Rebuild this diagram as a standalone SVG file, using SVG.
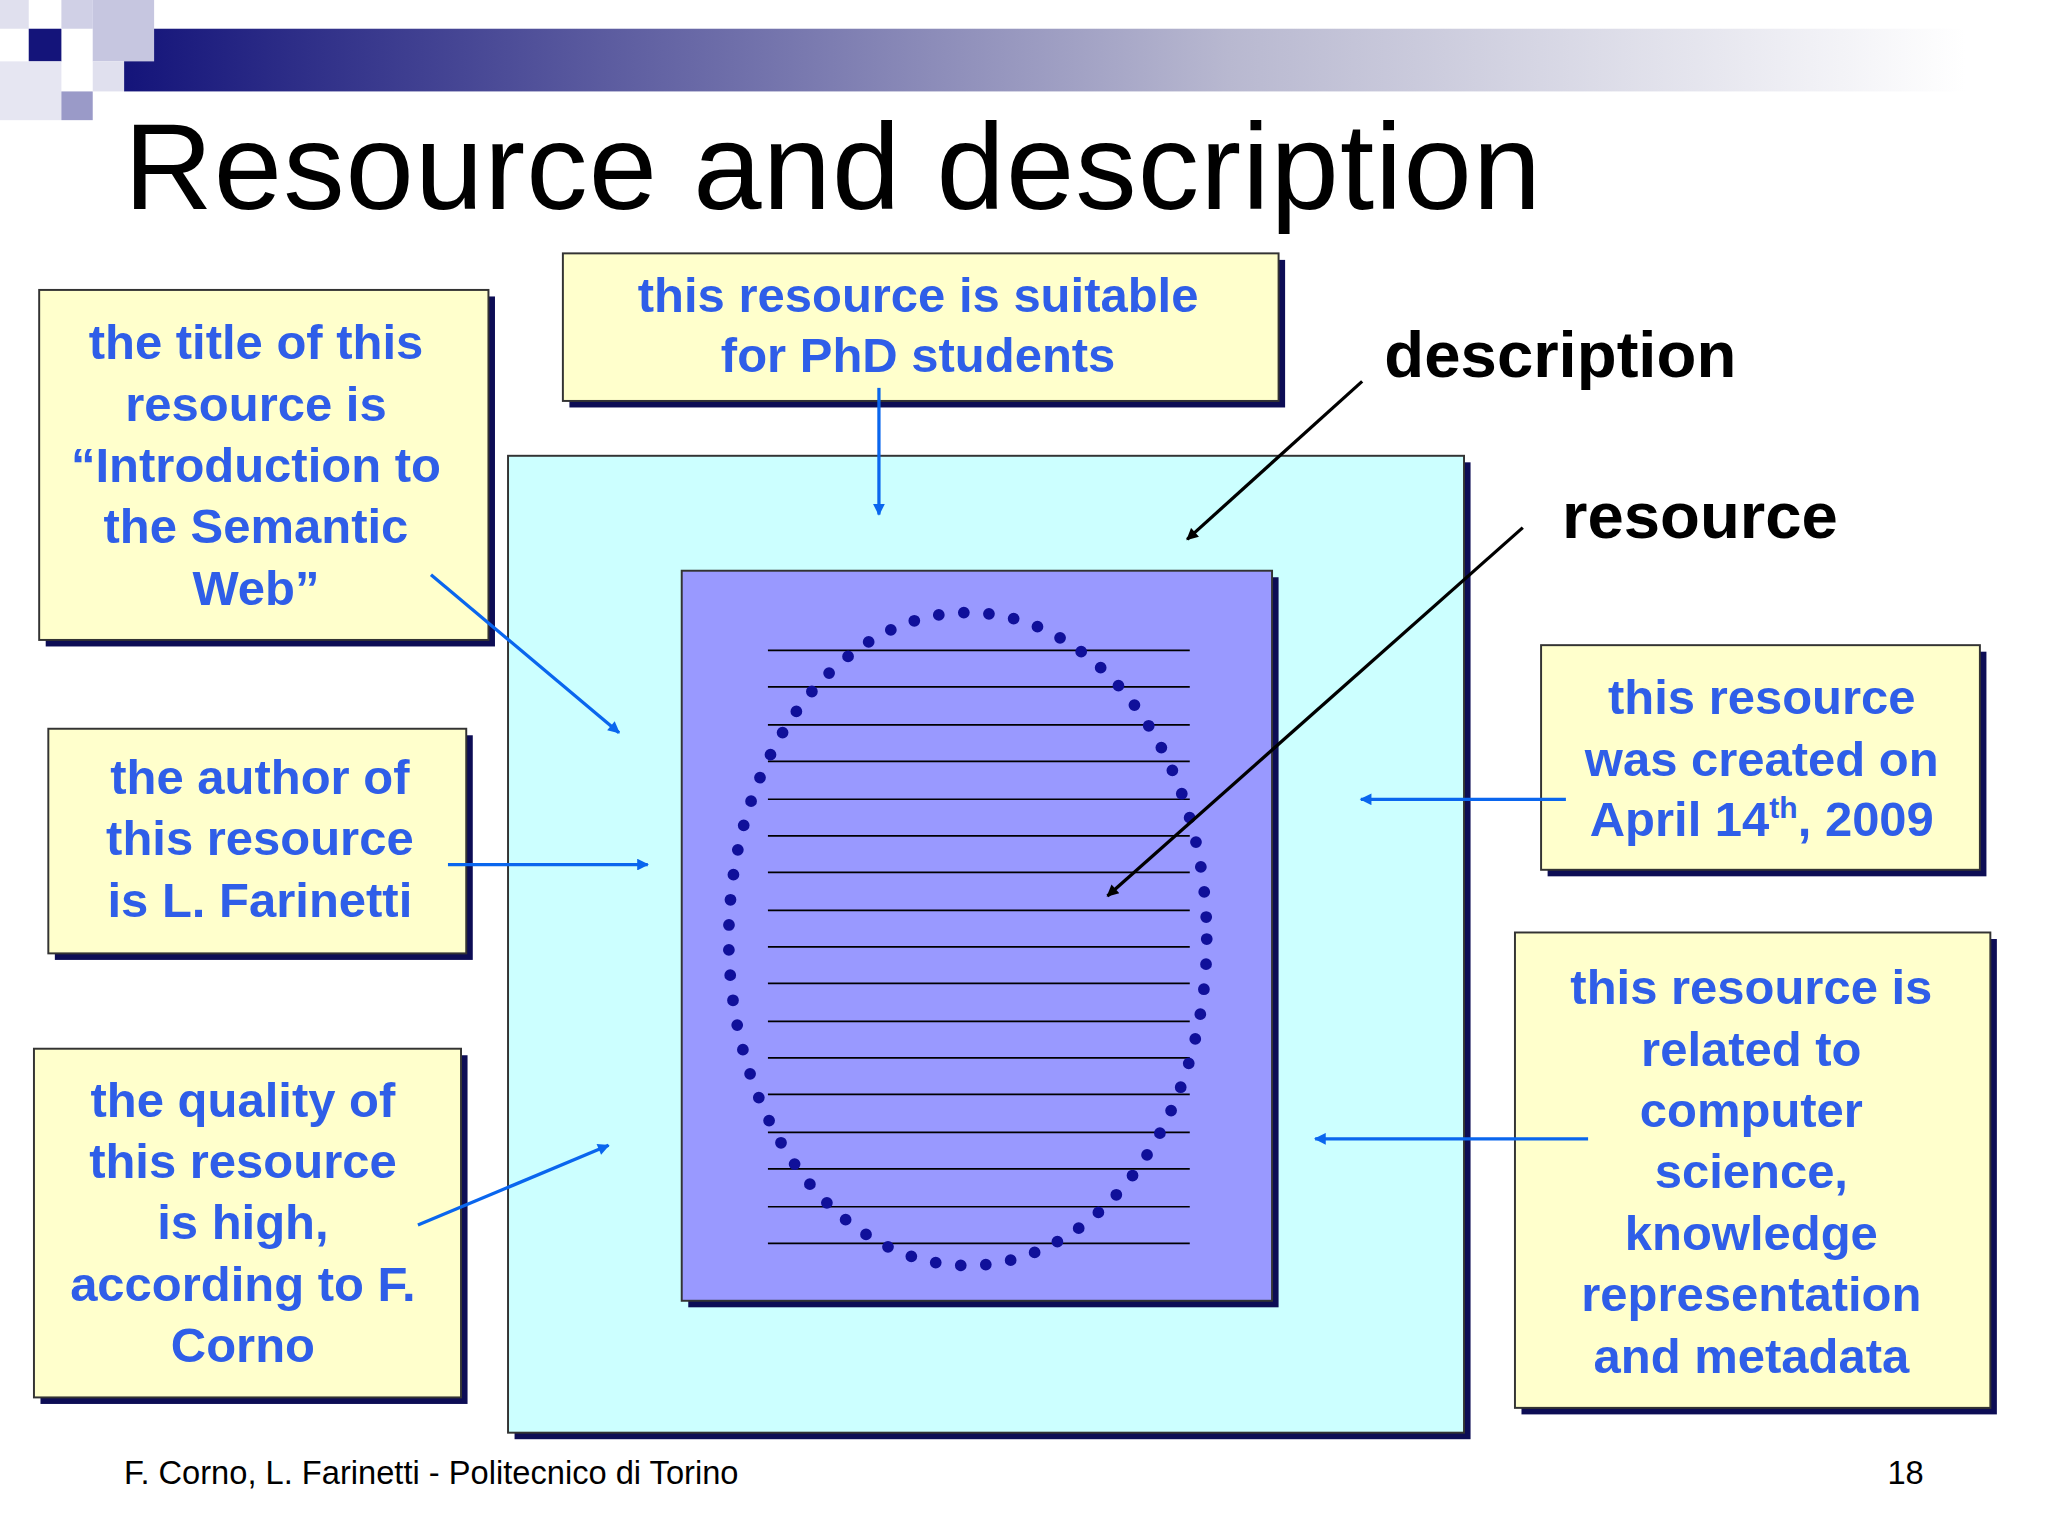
<svg xmlns="http://www.w3.org/2000/svg" width="2048" height="1536" viewBox="0 0 2048 1536">
<defs>
<linearGradient id="bar" x1="0" x2="1" y1="0" y2="0"><stop offset="0" stop-color="#14147a"/><stop offset="0.6" stop-color="#b8b8d0"/><stop offset="1" stop-color="#ffffff"/></linearGradient>
<marker id="ab" viewBox="0 0 10 10" refX="9" refY="5" markerWidth="11" markerHeight="9" orient="auto" markerUnits="userSpaceOnUse"><path d="M0,0L10,5L0,10z" fill="#0a66ee"/></marker>
<marker id="ak" viewBox="0 0 10 10" refX="9" refY="5" markerWidth="11" markerHeight="9" orient="auto" markerUnits="userSpaceOnUse"><path d="M0,0L10,5L0,10z" fill="#000"/></marker>
</defs>
<style>
.box{fill:#ffffcc;stroke:#333;stroke-width:1.5}
.sh{fill:#0d0d55}
.t{font-family:"Liberation Sans",Arial,sans-serif;font-weight:bold;font-size:37.5px;fill:#2f5ee8;text-anchor:middle}
.lb{font-family:"Liberation Sans",Arial,sans-serif;font-weight:bold;font-size:50px;fill:#000}
.bl{stroke:#0a66ee;stroke-width:2.5;fill:none;marker-end:url(#ab)}
.bk{stroke:#000;stroke-width:2.5;fill:none;marker-end:url(#ak)}
.ln{stroke:#000;stroke-width:1.3}
</style>
<rect width="2048" height="1536" fill="#fff"/>
<g transform="scale(1.306)">
<g id="header">
<rect x="95" y="22" width="1410" height="48" fill="url(#bar)"/>
<rect x="0" y="0" width="22" height="22" fill="#e0e0ee"/>
<rect x="22" y="22" width="25" height="25" fill="#14147a"/>
<rect x="47" y="0" width="24" height="22" fill="#d0d0e6"/>
<rect x="0" y="47" width="47" height="45" fill="#e6e6f2"/>
<rect x="47" y="70" width="24" height="22" fill="#9a9ac8"/>
<rect x="71" y="0" width="47" height="47" fill="#c6c6e0"/>
<rect x="71" y="47" width="24" height="23" fill="#e0e0ee"/>
<text x="95" y="160" font-family="Liberation Sans,Arial,sans-serif" font-size="94" textLength="1085" fill="#000">Resource and description</text>
</g>
<g id="description">
<rect x="394" y="354" width="732" height="748" class="sh"/>
<rect x="389" y="349" width="732" height="748" fill="#ccffff" stroke="#333" stroke-width="1.5"/>
</g>
<g id="resource">
<rect x="527" y="442" width="452" height="559" class="sh"/>
<rect x="522" y="437" width="452" height="559" fill="#9999ff" stroke="#333" stroke-width="1.5"/>
<g class="ln">
<line x1="588" x2="911" y1="498" y2="498"/><line x1="588" x2="911" y1="526" y2="526"/><line x1="588" x2="911" y1="555" y2="555"/><line x1="588" x2="911" y1="583" y2="583"/><line x1="588" x2="911" y1="612" y2="612"/><line x1="588" x2="911" y1="640" y2="640"/><line x1="588" x2="911" y1="668" y2="668"/><line x1="588" x2="911" y1="697" y2="697"/><line x1="588" x2="911" y1="725" y2="725"/><line x1="588" x2="911" y1="753" y2="753"/><line x1="588" x2="911" y1="782" y2="782"/><line x1="588" x2="911" y1="810" y2="810"/><line x1="588" x2="911" y1="838" y2="838"/><line x1="588" x2="911" y1="867" y2="867"/><line x1="588" x2="911" y1="895" y2="895"/><line x1="588" x2="911" y1="924" y2="924"/><line x1="588" x2="911" y1="952" y2="952"/>
</g>
<ellipse cx="741" cy="719" rx="183" ry="250" fill="none" stroke="#10109a" stroke-width="9" stroke-linecap="round" stroke-dasharray="0 19.3"/>
</g>
<g id="n1"><rect x="35" y="227" width="344" height="268" class="sh"/><rect x="30" y="222" width="344" height="268" class="box"/>
<text class="t"><tspan x="196" y="275">the title of this</tspan><tspan x="196" y="322">resource is</tspan><tspan x="196" y="369">“Introduction to</tspan><tspan x="196" y="416">the Semantic</tspan><tspan x="196" y="463">Web”</tspan></text></g>
<g id="n2"><rect x="436" y="199" width="548" height="113" class="sh"/><rect x="431" y="194" width="548" height="113" class="box"/>
<text class="t"><tspan x="703" y="239">this resource is suitable</tspan><tspan x="703" y="285">for PhD students</tspan></text></g>
<g id="n3"><rect x="42" y="563" width="320" height="172" class="sh"/><rect x="37" y="558" width="320" height="172" class="box"/>
<text class="t"><tspan x="199" y="608">the author of</tspan><tspan x="199" y="655">this resource</tspan><tspan x="199" y="702">is L. Farinetti</tspan></text></g>
<g id="n4"><rect x="31" y="808" width="327" height="267" class="sh"/><rect x="26" y="803" width="327" height="267" class="box"/>
<text class="t"><tspan x="186" y="855">the quality of</tspan><tspan x="186" y="902">this resource</tspan><tspan x="186" y="949">is high,</tspan><tspan x="186" y="996">according to F.</tspan><tspan x="186" y="1043">Corno</tspan></text></g>
<g id="n5"><rect x="1185" y="499" width="336" height="172" class="sh"/><rect x="1180" y="494" width="336" height="172" class="box"/>
<text class="t"><tspan x="1349" y="547">this resource</tspan><tspan x="1349" y="594">was created on</tspan><tspan x="1349" y="640">April 14<tspan font-size="23" dy="-14">th</tspan><tspan dy="14">, 2009</tspan></tspan></text></g>
<g id="n6"><rect x="1165" y="719" width="364" height="364" class="sh"/><rect x="1160" y="714" width="364" height="364" class="box"/>
<text class="t"><tspan x="1341" y="769">this resource is</tspan><tspan x="1341" y="816">related to</tspan><tspan x="1341" y="863">computer</tspan><tspan x="1341" y="910">science,</tspan><tspan x="1341" y="957">knowledge</tspan><tspan x="1341" y="1004">representation</tspan><tspan x="1341" y="1051">and metadata</tspan></text></g>
<g id="labels">
<text class="lb" x="1060" y="289">description</text>
<text class="lb" x="1196" y="412">resource</text>
</g>
<g id="connectors">
<line class="bl" x1="673" y1="297" x2="673" y2="394"/>
<line class="bl" x1="330" y1="440" x2="474" y2="561"/>
<line class="bl" x1="343" y1="662" x2="496" y2="662"/>
<line class="bl" x1="320" y1="938" x2="466" y2="877"/>
<line class="bl" x1="1199" y1="612" x2="1042" y2="612"/>
<line class="bl" x1="1216" y1="872" x2="1007" y2="872"/>
<line class="bk" x1="1043" y1="292" x2="909" y2="413"/>
<line class="bk" x1="1166" y1="404" x2="848" y2="686"/>
</g>
<g id="footer" font-family="Liberation Sans,Arial,sans-serif" font-size="25" fill="#000">
<text x="95" y="1136">F. Corno, L. Farinetti - Politecnico di Torino</text>
<text x="1473" y="1136" text-anchor="end">18</text>
</g>
</g>
</svg>
